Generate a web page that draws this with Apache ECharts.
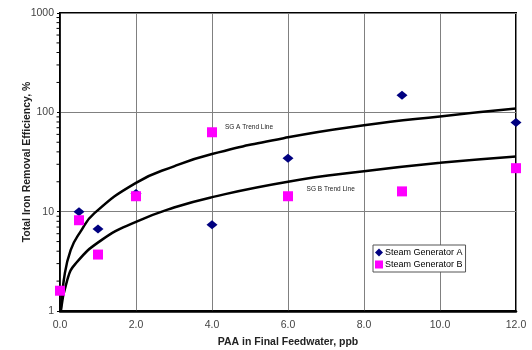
<!DOCTYPE html>
<html>
<head>
<meta charset="utf-8">
<script src="https://cdn.jsdelivr.net/npm/echarts@6/dist/echarts.min.js"></script>
<style>
  html, body { margin: 0; padding: 0; background: #fff; }
  #chart { width: 532px; height: 350px; }
</style>
</head>
<body>
<div id="chart"></div>
<script>
// data
var xTicks = [0, 2, 4, 6, 8, 10, 12];
var sgA = [[0.5, 10], [1, 6.7], [2, 15.2], [4, 7.4], [6, 34.5], [9, 149], [12, 79]];
var sgB = [[0, 1.6], [0.5, 8.2], [1, 3.7], [2, 14.3], [4, 63], [6, 14.3], [9, 16], [12, 27.4]];
// trend curves, values
var trendA = [[0.02, 1.0], [0.1, 2.05], [0.28, 4.1], [0.54, 6.3], [0.9, 9.6], [2, 19.5], [3, 28.6], [4, 38], [6, 56], [8, 74], [10, 91], [12, 109]];
var trendB = [[0.02, 1.0], [0.19, 2.05], [0.41, 3.0], [1.1, 5.2], [2, 7.9], [3, 11], [4, 14], [6, 20], [8, 25.5], [10, 31], [12, 36]];
// log minor tick positions on the y axis
var minorY = [2, 3, 4, 5, 6, 7, 8, 9, 20, 30, 40, 50, 60, 70, 80, 90, 200, 300, 400, 500, 600, 700, 800, 900];

var font = 'Liberation Sans, Arial, sans-serif';
var chart = echarts.init(document.getElementById('chart'));

chart.setOption({
  animation: false,
  grid: {
    left: 60, right: 16, top: 13, bottom: 39,
    outerBoundsMode: 'none',
    show: true, borderColor: '#000', borderWidth: 2
  },
  legend: {
    data: [
      { name: 'Steam Generator A', icon: 'diamond' },
      { name: 'Steam Generator B', icon: 'rect' }
    ],
    orient: 'vertical',
    left: 373, top: 245,
    itemWidth: 8, itemHeight: 8, itemGap: 3,
    padding: [3, 3, 3, 2],
    backgroundColor: '#fff',
    borderColor: '#555', borderWidth: 1,
    textStyle: { fontFamily: font, fontSize: 9, color: '#000', padding: [0, 0, 0, -3] }
  },
  xAxis: {
    type: 'value',
    min: 0, max: 12, interval: 2,
    name: 'PAA in Final Feedwater, ppb',
    nameLocation: 'middle', nameGap: 26, nameMoveOverlap: false,
    nameTextStyle: { fontFamily: font, fontSize: 10.5, fontWeight: 'bold', color: '#222' },
    axisLine: { lineStyle: { color: '#000', width: 2.5 } },
    axisTick: { show: false },
    axisLabel: {
      margin: 9, fontFamily: font, fontSize: 10.5, color: '#444',
      formatter: function (v) { return v.toFixed(1); }
    },
    splitLine: { lineStyle: { color: '#808080', width: 1 } }
  },
  yAxis: {
    type: 'log', logBase: 10, min: 1, max: 1000,
    name: 'Total Iron Removal Efficiency, %',
    nameLocation: 'middle', nameGap: 27, nameRotate: 90, nameMoveOverlap: false,
    nameTextStyle: { fontFamily: font, fontSize: 10.5, fontWeight: 'bold', color: '#222' },
    axisLine: { lineStyle: { color: '#000', width: 1.5 } },
    axisTick: { show: true, length: 3, lineStyle: { color: '#000' } },
    axisLabel: {
      margin: 6, fontFamily: font, fontSize: 10.5, color: '#444',
      formatter: function (v) { return String(Math.round(v)); }
    },
    splitLine: { lineStyle: { color: '#808080', width: 1 } }
  },
  series: [
    {
      type: 'scatter', silent: true, clip: false,
      data: minorY.map(function (v) { return [0, v]; }),
      symbol: 'rect', symbolSize: [3, 1], symbolOffset: [-2, 0],
      itemStyle: { color: '#000', opacity: 1 }, z: 5
    },
    {
      name: 'SG A Trend', type: 'line', data: trendA, smooth: true,
      showSymbol: false, silent: true,
      lineStyle: { color: '#000', width: 2.5 },
      markPoint: {
        symbol: 'circle', symbolSize: 0,
        data: [{ coord: [4.34, 71] }],
        label: { show: true, position: 'right', distance: 0, formatter: 'SG A Trend Line',
          fontFamily: font, fontSize: 6.5, color: '#222' }
      }
    },
    {
      name: 'SG B Trend', type: 'line', data: trendB, smooth: true,
      showSymbol: false, silent: true,
      lineStyle: { color: '#000', width: 2.5 },
      markPoint: {
        symbol: 'circle', symbolSize: 0,
        data: [{ coord: [6.49, 16.8] }],
        label: { show: true, position: 'right', distance: 0, formatter: 'SG B Trend Line',
          fontFamily: font, fontSize: 6.5, color: '#222' }
      }
    },
    {
      name: 'Steam Generator A', type: 'scatter', data: sgA, clip: false,
      symbol: 'diamond', symbolSize: [11, 9],
      itemStyle: { color: '#000080', opacity: 1 }, z: 6
    },
    {
      name: 'Steam Generator B', type: 'scatter', data: sgB, clip: false,
      symbol: 'rect', symbolSize: 10,
      itemStyle: { color: '#ff00ff', opacity: 1 }, z: 7
    }
  ]
});
</script>
</body>
</html>
